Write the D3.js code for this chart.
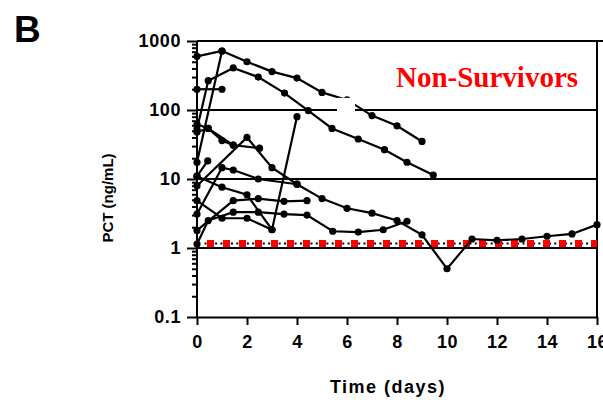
<!DOCTYPE html>
<html>
<head>
<meta charset="utf-8">
<script src="https://cdn.jsdelivr.net/npm/d3@7/dist/d3.min.js"></script>
<style>
  html, body { margin: 0; padding: 0; background: #fff; }
  svg { display: block; }
</style>
</head>
<body>
<svg id="chart" width="603" height="400"></svg>
<script>
// ---- data (day, PCT ng/mL) per patient ----
const patient1  = [[0,600],[1,716],[2,500],[3,360],[4,290],[5,180],[6,140],[7,83],[8,59],[9,35]];
const patient2  = [[0,53],[0.45,266],[1.45,407],[2.45,300],[3.5,176],[4.45,98],[5.4,54],[6.45,38],[7.5,26.6],[8.4,17.5],[9.45,11.4]];
const patient3  = [[0,17.5],[1,716]];
const patient4  = [[0,200],[1,200]];
const patient5  = [[0,62],[0.45,54],[1,36],[1.45,31],[2.5,28]];
const patient6  = [[0,48],[0.45,54],[1.45,31]];
const patient7  = [[0,8],[2,40],[3,14.6],[4,8.4],[5,5.2],[6,3.76],[7,3.2],[8,2.5],[9,1.55],[10,0.5],[11,1.35],[12,1.29],[13,1.35],[14,1.48],[15,1.6],[16,2.18]];
const patient8  = [[0,11],[0.43,18.3]];
const patient9  = [[0,3.1],[1,14.6],[1.45,13.5],[2.45,10],[4,8.4]];
const patient10 = [[0,11],[1,7.6],[2,5.9],[3,1.84],[4,80]];
const patient11 = [[0,1.8],[1.45,4.85],[2.45,5.2],[3.48,4.75],[4.4,4.85]];
const patient12 = [[0,1.14],[0.45,2.5],[1.45,3.3],[2.45,3.3],[3.48,3.1],[4.4,3.0],[5.43,1.75],[6.45,1.7],[7.45,1.84],[8.4,2.44]];
const patient13 = [[0,4.85],[1,2.7],[2,2.7],[3,1.84]];
const patients = [patient1, patient2, patient3, patient4, patient5, patient6, patient7,
                  patient8, patient9, patient10, patient11, patient12, patient13];

const threshold = 1.16;                 // red dotted reference level
const xTicks = [0,2,4,6,8,10,12,14,16];
const yMajor = [0.1,1,10,100,1000];
const yMinor = [0.2,0.3,0.4,0.5,0.6,0.7,0.8,0.9,2,3,4,5,6,7,8,9,20,30,40,50,60,70,80,90,200,300,400,500,600,700,800,900];
const yGrid  = [1,10,100];
const maskDays = [5.6, 6.32];           // white patch in the original figure
const maskVals = [93.5, 150];

// ---- layout ----
const svg = d3.select("#chart");
const x = d3.scaleLinear().domain([0,16]).range([197,597]);
const y = d3.scaleLog().domain([0.1,1000]).range([317,41]);
const tickFont = "bold 18px 'Liberation Sans', Arial, sans-serif";

// gridlines
svg.append("g").selectAll("line").data(yGrid).join("line")
  .attr("x1", x(0)).attr("x2", x(16))
  .attr("y1", d => y(d)).attr("y2", d => y(d))
  .attr("stroke", "#000").attr("stroke-width", 2);
// top border (extends to the edge) and right border
svg.append("line").attr("x1", x(0)).attr("x2", 603)
  .attr("y1", y(1000)).attr("y2", y(1000)).attr("stroke", "#000").attr("stroke-width", 2);
svg.append("line").attr("x1", x(16)).attr("x2", x(16))
  .attr("y1", y(1000)).attr("y2", y(0.1)).attr("stroke", "#000").attr("stroke-width", 2);

// threshold line: black dots + red squares
svg.append("line").attr("x1", x(0.3)).attr("x2", x(16))
  .attr("y1", y(threshold)).attr("y2", y(threshold))
  .attr("stroke", "#000").attr("stroke-width", 2).attr("stroke-dasharray", "2,3.3");
svg.append("line").attr("x1", x(0.4)).attr("x2", x(16))
  .attr("y1", y(threshold)).attr("y2", y(threshold))
  .attr("stroke", "#ff0000").attr("stroke-width", 7).attr("stroke-dasharray", "7,9");

// series
const line = d3.line().x(d => x(d[0])).y(d => y(d[1]));
const g = svg.append("g");
patients.forEach(p => {
  g.append("path").datum(p).attr("d", line)
    .attr("fill", "none").attr("stroke", "#000").attr("stroke-width", 2.2);
  g.selectAll(null).data(p).join("circle")
    .attr("cx", d => x(d[0])).attr("cy", d => y(d[1])).attr("r", 3.6).attr("fill", "#000");
});

// white patch
svg.append("rect")
  .attr("x", x(maskDays[0])).attr("width", x(maskDays[1]) - x(maskDays[0]))
  .attr("y", y(maskVals[1])).attr("height", y(maskVals[0]) - y(maskVals[1]))
  .attr("fill", "#fff");

// axes
const yAxis = svg.append("g").attr("transform", `translate(${x(0)},0)`)
  .call(d3.axisLeft(y).tickValues(yMajor).tickSize(10).tickPadding(6)
        .tickFormat(d => d >= 1 ? d3.format("d")(d) : String(d)));
const yMinorAxis = svg.append("g").attr("transform", `translate(${x(0)},0)`)
  .call(d3.axisLeft(y).tickValues(yMinor).tickSize(5).tickFormat(""));
yMinorAxis.select(".domain").remove();
const xAxis = svg.append("g").attr("transform", `translate(0,${y(0.1)})`)
  .call(d3.axisBottom(x).tickValues(xTicks).tickSize(8).tickSizeOuter(0).tickPadding(10));
[yAxis, yMinorAxis, xAxis].forEach(a => {
  a.selectAll(".domain").attr("stroke", "#000").attr("stroke-width", 2);
  a.selectAll(".tick line").attr("stroke", "#000").attr("stroke-width", 2);
  a.selectAll("text").style("font", tickFont).style("letter-spacing", "0.6px").attr("fill", "#000");
});
yAxis.select(".domain").attr("d", `M0,${y(1000)}V${y(0.1)}`);

// titles
svg.append("text").attr("x", 388).attr("y", 393).attr("text-anchor", "middle")
  .style("font", "bold 18px 'Liberation Sans', Arial, sans-serif").style("letter-spacing", "1.5px")
  .text("Time (days)");
svg.append("text").attr("transform", "translate(113,198) rotate(-90)").attr("text-anchor", "middle")
  .style("font", "bold 15px 'Liberation Sans', Arial, sans-serif")
  .text("PCT (ng/mL)");
svg.append("text").attr("x", 14).attr("y", 42)
  .style("font", "bold 37px 'Liberation Sans', Arial, sans-serif").text("B");
svg.append("text").attr("x", 396).attr("y", 87).attr("fill", "#ff0000")
  .style("font", "bold 29px 'Liberation Serif', 'Times New Roman', serif").text("Non-Survivors");
</script>
</body>
</html>
